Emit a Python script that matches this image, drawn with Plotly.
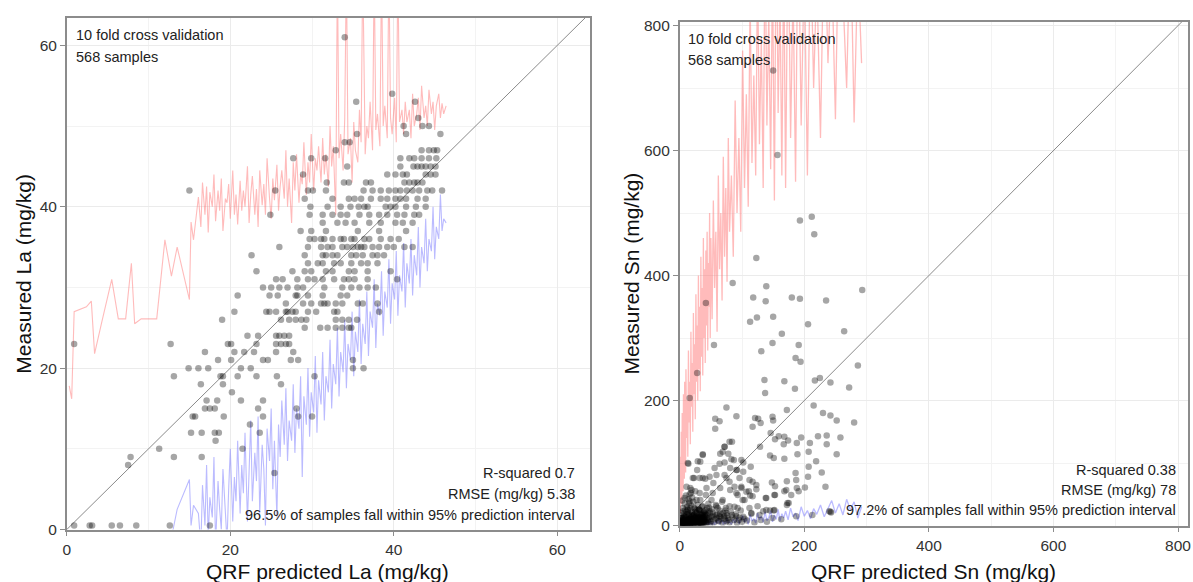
import plotly.graph_objects as go

# ---------------- La panel data ----------------
la_levels = [61, 54, 53, 51, 50, 49, 48, 47, 46, 45, 44, 43, 42, 41, 40, 39, 38, 37, 36, 35, 34, 33,
             32, 31, 30, 29, 28, 27, 26, 25, 24, 23, 22, 21, 20, 19, 18, 17, 16, 15, 14, 13, 12,
             11, 10, 9, 8, 7, 0.5]
la_preds = [
    [34.0], [39.8], [35.4, 42.6], [43.0], [41.2, 43.5, 44.3], [35.5, 41.5, 45.7], [34.0, 34.6],
    [32.9, 43.4, 44.3, 44.9, 45.3],
    [27.7, 29.9, 31.6, 40.8, 41.9, 42.5, 43.4, 44.3, 45.2],
    [34.3, 40.8, 42.4, 42.9, 43.4, 43.9, 44.5, 45.1],
    [28.9, 39.2, 40.2, 41.1, 41.6, 43.9, 44.5, 45.1],
    [31.8, 33.9, 34.5, 36.6, 37.2, 41.3, 41.9, 42.5, 42.9, 43.5],
    [15.0, 25.5, 29.5, 30.1, 31.7, 36.3, 37.4, 38.4, 39.4, 40.2, 40.8, 41.6, 42.3, 43.1, 44.1, 44.7, 45.9],
    [29.1, 32.5, 34.5, 35.2, 36.0, 37.2, 38.4, 39.2, 40.2, 40.8, 41.5, 42.9, 43.9],
    [29.8, 31.9, 33.5, 34.7, 35.7, 36.4, 36.8, 39.0, 39.6, 40.2, 41.5, 42.7, 43.9],
    [24.9, 29.7, 31.3, 32.5, 33.5, 34.3, 35.8, 37.0, 38.2, 39.2, 40.4, 41.3, 42.5, 43.1],
    [31.3, 33.1, 34.1, 35.2, 37.0, 38.4, 40.2, 41.1, 42.3],
    [28.6, 29.9, 31.7, 35.6, 38.2, 41.5],
    [29.7, 30.3, 31.1, 31.5, 32.5, 33.5, 33.9, 34.8, 35.2, 36.4, 37.0, 38.4, 39.6, 40.6],
    [26.0, 29.5, 31.1, 31.9, 32.5, 33.7, 34.3, 35.0, 35.6, 36.0, 36.4, 37.4, 38.2, 39.2, 40.0, 41.3, 42.3],
    [22.6, 29.1, 31.3, 31.7, 32.5, 33.1, 34.8, 35.4, 36.2, 37.4, 38.0, 38.8],
    [29.5, 30.7, 31.3, 32.7, 33.5, 34.8, 36.0, 36.8, 38.0],
    [23.2, 27.6, 29.1, 29.9, 31.7, 32.5, 34.5, 35.2, 36.8, 39.6],
    [25.6, 26.4, 28.2, 29.5, 30.3, 31.3, 32.7, 33.9, 34.5, 35.2, 36.8, 40.4],
    [24.0, 25.0, 26.0, 27.0, 28.2, 28.9, 31.5, 33.7, 34.8, 35.8, 36.8, 37.8],
    [20.9, 24.8, 25.8, 28.0, 28.2, 29.5, 31.3, 33.5, 34.3],
    [26.8, 28.9, 29.9, 31.1, 31.5, 31.9, 32.9, 33.7, 35.6, 36.2, 38.0],
    [20.5, 24.4, 24.8, 25.6, 26.8, 27.0, 27.6, 28.0, 29.5, 30.5, 32.7, 33.1, 38.2],
    [19.0, 26.2, 27.2, 28.0, 28.7, 29.3, 32.9, 33.7, 34.5, 35.5],
    [29.1, 31.0, 31.9, 32.9, 33.7, 34.5, 34.8],
    [22.1, 23.4, 25.6, 26.0, 26.6, 27.2],
    [0.9, 12.7, 19.7, 20.1, 23.2, 25.6, 26.2, 26.8, 27.2],
    [16.9, 20.5, 21.7, 22.9, 25.6, 27.7],
    [18.5, 20.1, 24.0, 24.6, 27.4, 28.3, 35.0],
    [14.9, 16.1, 17.3, 21.3, 22.5, 35.0, 36.3],
    [13.1, 18.8, 19.1, 20.9, 23.2, 25.7, 30.3],
    [16.4, 19.1, 26.2],
    [20.2],
    [17.1, 18.4, 21.3, 24.0],
    [16.9, 17.5, 18.1, 23.4, 28.1],
    [15.4, 15.7, 19.2, 24.0, 28.3, 30.0],
    [22.4],
    [15.2, 16.5, 18.1, 18.6, 23.6],
    [18.2],
    [11.3, 21.5],
    [7.8, 13.1, 16.5],
    [7.5],
    [25.4],
    [0.9, 2.8, 3.1, 5.5, 6.5, 8.5, 12.6, 17.5],
]

la_pi_x = [0.3, 0.6, 0.9, 2.4, 3.0, 3.4, 4.3, 5.5, 6.3, 7.2, 7.9, 8.3, 9.1, 11.0, 12.0, 12.8, 13.5, 15.0, 15.2, 15.5,
           16.1, 16.4, 16.6, 16.9, 17.1, 17.3, 17.5, 17.8, 18.0, 18.2, 18.5, 18.7, 18.9, 19.1, 19.4, 19.6, 19.8, 20.0, 20.3, 20.5, 20.7, 20.9, 21.2,
           21.4, 21.6, 21.8, 22.1, 22.3, 22.5, 22.7, 23.0, 23.2, 23.4, 23.6, 23.9, 24.1, 24.3, 24.5, 24.8, 25.0, 25.2, 25.4, 25.7, 25.9,
           26.1, 26.3, 26.6, 26.8, 27.0, 27.2, 27.5, 27.7, 27.9, 28.1, 28.4, 28.6, 28.8, 29.0, 29.3, 29.5, 29.7, 29.9, 30.2, 30.4, 30.6, 30.8,
           31.1, 31.3, 31.5, 31.7, 32.0, 32.2, 32.4, 32.6, 32.9, 33.1, 33.3, 33.5, 33.8, 34.0, 34.2, 34.4, 34.7, 34.9, 35.1, 35.3, 35.6, 35.8,
           36.0, 36.2, 36.5, 36.7, 36.9, 37.1, 37.4, 37.6, 37.8, 38.0, 38.3, 38.5, 38.7, 38.9, 39.2, 39.4, 39.6, 39.8, 40.1, 40.3, 40.5, 40.7,
           41.0, 41.2, 41.4, 41.6, 41.9, 42.1, 42.3, 42.5, 42.8, 43.0, 43.2, 43.4, 43.7, 43.9, 44.1, 44.3, 44.6, 44.8, 45.0, 45.2, 45.5, 45.7, 45.9, 46.1, 46.4]
la_upper = [17.8, 16.2, 27.0, 27.6, 28.3, 21.8, 25.8, 31.0, 26.1, 26.1, 33.0, 25.5, 26.1, 26.1, 35.9, 31.4, 35.0, 28.5, 38.1, 35.9,
            41.2, 37.5, 43.0, 39.0, 42.5, 36.8, 41.8, 40.0, 44.0, 38.2, 42.0, 39.5, 43.5, 37.0, 41.0, 40.5, 42.8, 38.5, 44.5, 39.0, 41.5, 37.8, 43.2,
            39.5, 42.0, 40.0, 45.0, 38.0, 41.5, 43.8, 39.0, 42.2, 37.5, 44.5, 40.2, 42.8, 39.0, 46.0, 41.0, 38.5, 43.5, 40.8, 45.2, 39.5, 42.5,
            44.5, 41.0, 47.0, 40.0, 43.5, 38.0, 45.5, 42.0, 46.5, 40.5, 44.0, 42.8, 48.0, 41.5, 45.5, 43.0, 49.0, 42.0, 46.0, 44.5, 47.5, 43.0,
            48.5, 44.0, 46.5, 42.5, 50.0, 45.0, 47.5, 39.0, 70.0, 46.0, 49.0, 44.5, 51.0, 70.0, 46.5, 48.5, 43.0, 50.5, 47.0, 45.5, 52.0, 48.0,
            70.0, 46.5, 50.0, 48.5, 53.0, 47.0, 70.0, 49.5, 51.5, 47.5, 70.0, 50.0, 52.5, 48.5, 70.0, 51.0, 49.0, 53.5, 48.0, 70.0, 50.5, 52.0,
            49.0, 53.0, 50.5, 52.0, 48.5, 54.0, 50.0, 51.5, 53.5, 49.5, 55.0, 51.0, 52.5, 50.0, 54.5, 51.5, 53.0, 49.5, 52.5, 54.0, 51.0, 52.8, 51.5, 52.5]
la_lower = [-3, -3, -3, -3, -3, -3, -3, -3, -3, -3, -3, -3, -3, -3, -3, -1.0, 2.5, 6.2, 0.5, 3.0,
            2.0, -2.0, 5.5, 0.5, 8.0, -1.0, 4.0, 1.5, 9.0, -2.0, 6.0, 2.5, 0.0, 7.5, 3.0, -1.5, 5.0, 10.0, 1.0, 6.5, 3.5, 11.0, 2.0,
            8.0, 4.5, 12.0, 1.0, 7.0, 13.5, 3.5, 9.5, 6.0, 14.0, 2.0, 10.5, 7.5, 0.5, 12.5, 8.5, 15.0, 5.0, 11.0, 1.5, 13.0, 9.0,
            16.0, 10.5, 17.5, 8.5, 13.5, 11.0, 18.0, 9.5, 15.0, 12.5, 19.0, 6.5, 16.5, 13.0, 20.0, 11.5, 17.0, 14.5, 21.5, 12.0, 18.5, 15.5,
            22.0, 13.5, 19.0, 17.0, 23.5, 15.0, 20.5, 18.0, 25.0, 16.5, 22.0, 19.5, 26.0, 17.5, 23.0, 21.0, 27.0, 19.0, 24.5, 22.0, 28.5, 20.5,
            25.5, 23.0, 29.5, 21.5, 27.0, 25.0, 31.0, 22.5, 28.0, 26.5, 32.0, 24.0, 29.5, 27.5, 33.5, 25.5, 30.5, 28.5, 34.5, 26.5, 31.5, 29.5,
            35.5, 27.5, 33.0, 30.5, 36.0, 29.0, 34.0, 31.5, 37.5, 30.0, 35.0, 33.0, 38.5, 32.0, 36.0, 34.5, 40.0, 33.5, 37.5, 36.0, 41.5, 37.0, 38.5, 38.0]

# ---------------- Sn panel data ----------------
sn_pred = [150, 157, 193, 212, 216, 123, 85, 139, 293, 118, 138, 180, 193, 235, 42, 113, 124, 150, 206, 164,
           264, 55, 131, 149, 191, 186, 194, 28, 286, 136, 168, 217, 225, 242, 137, 185, 272, 16, 215, 75,
           91, 172, 230, 242, 252, 280, 57, 64, 57, 121, 126, 130, 117, 149, 150, 146, 159, 168, 174, 153,
           167, 188, 195, 222, 236, 258, 129, 145, 151, 168, 189, 207, 209, 236, 252, 219, 207, 186, 206, 228,
           148, 153, 172, 201, 234, 188, 191, 153, 168, 138, 175, 172, 134, 145, 151, 242,
           14, 33, 28, 23, 41, 37, 84, 78, 72, 65, 72, 87, 102, 114, 81, 91, 72, 102, 117, 111, 99, 123, 104,
           113, 93, 81, 65, 54, 42, 51, 33, 18, 17,
           80, 72, 69, 37, 83, 92, 99, 64, 29, 13, 21, 32, 37, 48, 56, 59, 75, 80, 88, 96, 99, 112, 123, 107,
           117, 125, 139, 152, 152, 139, 173, 171, 187, 179, 187, 240, 128, 112, 101, 91, 93, 80, 69, 53, 43,
           32, 19, 11, 27, 16, 8, 59, 48, 37, 27, 19, 5, 3, 64, 75, 91, 104, 115, 149, 163, 213, 243,
           1, 2, 3, 4, 5, 6, 7, 8, 9, 10, 11, 12, 13, 14, 15, 16, 17, 18, 19, 20, 21, 22, 23, 24, 25, 26, 27,
           28, 29, 30, 31, 32, 33, 34, 35, 36, 37, 38, 39, 40, 42, 43, 44, 45, 46, 47, 48, 50, 52, 54, 56, 58,
           60, 62, 64, 66, 68, 70, 72, 74, 76, 78, 82, 85, 88, 90, 95, 98, 102, 108, 115, 120, 130, 140,
           2, 3, 4, 5, 6, 7, 8, 9, 10, 11, 12, 13, 14, 15, 16, 17, 18, 19, 20, 21, 22, 23, 24, 25, 26, 27, 28,
           29, 30, 31, 32, 33, 34, 35, 36, 37, 38, 39, 40, 41, 42, 43, 44, 45, 46, 47, 48, 49, 51, 53, 55, 57,
           59, 61, 63, 65, 67, 69, 71, 73, 75, 77, 80, 84, 87, 92, 96, 100,
           3, 5, 8, 10, 4, 6, 12, 9, 14, 7, 11, 2, 15, 13, 18, 20, 16, 22, 25, 17,
           1, 2, 3, 4, 5, 6, 7, 8, 9, 10, 11, 12, 13, 14, 15, 16, 17, 18, 19, 20, 21, 22, 23, 24, 25, 26, 27,
           28, 29, 30, 31, 32, 33, 34, 35, 36, 37, 38, 39, 40,
           2, 4, 6, 8, 10, 12, 14, 16, 18, 20, 22, 24, 26, 28, 30, 32, 34, 36, 38, 40,
           3, 7, 11, 15, 19, 23, 27, 31, 35, 39, 5, 9, 13, 17, 21, 25, 29, 33, 37, 41]
sn_meas = [728, 593, 488, 494, 466, 428, 388, 383, 377, 365, 359, 365, 363, 360, 356, 326, 333, 334, 322, 307,
           311, 289, 279, 292, 289, 268, 262, 244, 256, 233, 231, 232, 236, 229, 212, 219, 221, 204, 192, 189,
           175, 185, 180, 176, 168, 165, 171, 167, 155, 172, 171, 164, 158, 174, 168, 148, 143, 142, 136, 138,
           130, 132, 141, 143, 144, 141, 126, 112, 108, 107, 114, 118, 132, 130, 114, 103, 94, 84, 78, 85,
           69, 63, 71, 61, 62, 60, 55, 49, 55, 44, 36, 33, 23, 24, 24, 22,
           99, 102, 89, 76, 75, 114, 134, 115, 126, 115, 101, 105, 101, 94, 92, 89, 81, 86, 70, 55, 60, 58, 41,
           48, 49, 57, 60, 68, 49, 41, 41, 52, 60,
           134, 126, 118, 113, 106, 89, 105, 99, 103, 100, 76, 76, 76, 78, 92, 81, 76, 70, 62, 76, 62, 73, 65, 54,
           47, 31, 44, 49, 25, 25, 36, 57, 73, 49, 15, 23, 17, 28, 41, 52, 28, 31, 41, 52, 60,
           52, 57, 62, 41, 39, 44, 31, 23, 17, 25, 17, 23, 12, 15, 20, 15, 11, 20, 12, 10, 17, 21,
           2, 5, 1, 8, 3, 12, 4, 6, 2, 15, 7, 3, 10, 18, 5, 9, 2, 13, 22, 6, 11, 4, 16, 27, 8, 14, 3,
           20, 10, 6, 25, 13, 4, 18, 9, 30, 14, 7, 22, 11, 5, 17, 28, 9, 35, 13, 20, 7, 26, 15, 10, 33,
           18, 8, 24, 14, 38, 20, 11, 28, 16, 9, 22, 13, 30, 18, 9, 24, 14, 8, 19, 5, 9, 6,
           1, 3, 2, 6, 1, 9, 3, 5, 1, 4, 8, 2, 6, 11, 3, 7, 1, 4, 9, 2, 14, 6, 3, 12, 5, 19, 8,
           2, 15, 4, 9, 24, 6, 12, 3, 20, 10, 5, 16, 8, 25, 4, 12, 19, 6, 29, 10, 3, 14, 21, 5, 17,
           12, 28, 7, 19, 11, 4, 15, 24, 7, 12, 5, 17, 9, 4, 13, 6,
           20, 28, 35, 48, 40, 18, 30, 25, 42, 15, 22, 12, 36, 26, 32, 45, 50, 38, 55, 28,
           4, 1, 7, 2, 10, 5, 1, 8, 3, 13, 6, 2, 9, 4, 16, 1, 11, 7, 3, 19, 6, 12, 2, 9, 22, 4, 15,
           8, 1, 11, 26, 5, 13, 3, 17, 9, 31, 2, 12, 7,
           3, 9, 1, 14, 6, 2, 20, 8, 4, 11, 1, 17, 6, 3, 13, 24, 2, 10, 5, 15,
           7, 2, 18, 10, 1, 28, 6, 14, 3, 21, 12, 5, 25, 1, 16, 8, 33, 4, 11, 19]

sn_pi_x = [0.5, 1, 1.5, 2, 2.5, 3, 3.5, 4, 4.5, 5, 5.5, 6, 6.5, 7, 7.5, 8, 8.5, 9, 9.5, 10,
           11, 12, 13, 14, 15, 16, 17, 18, 19, 20, 21, 22, 23, 24, 25, 26, 27, 28, 29, 30,
           31, 32, 33, 34, 35, 36, 37, 38, 39, 40, 41, 42, 43, 44, 45, 46, 47, 48, 49, 50,
           52, 54, 56, 58, 60, 62, 64, 66, 68, 70, 72, 74, 76, 78, 80,
           83, 86, 89, 92, 95, 98, 101, 104, 107, 110, 113, 116, 119, 122, 125, 128, 131, 134, 137, 140,
           143, 146, 149, 152, 155, 158, 161, 164, 167, 170,
           174, 178, 182, 186, 190, 195, 200, 205, 210, 215, 220,
           226, 232, 238, 244, 250, 256, 262, 268, 274, 280, 286, 292]
sn_upper = [60, 20, 110, 45, 150, 70, 35, 180, 90, 140, 55, 210, 100, 160, 75, 230, 120, 190, 85, 250,
            140, 200, 110, 280, 165, 230, 130, 310, 190, 260, 150, 340, 210, 290, 170, 370, 230, 320, 200, 400,
            250, 350, 215, 430, 270, 380, 240, 460, 300, 410, 260, 440, 320, 470, 280, 420, 350, 500, 300, 460,
            330, 520, 380, 470, 310, 560, 410, 500, 360, 590, 430, 540, 390, 620, 470,
            560, 430, 680, 500, 620, 470, 760, 540, 690, 510, 850, 580, 720, 560, 900, 610, 780, 540, 950, 640,
            820, 570, 900, 520, 1000, 660, 850, 560, 920, 540,
            980, 620, 860, 550, 1000, 640, 900, 560, 950, 700, 880,
            620, 980, 740, 900, 650, 1000, 840, 700, 960, 645, 900, 740]
sn_lower = [0.5, 1, 0.3, 2, 0.5, 1.5, 0.2, 3, 1, 0.5, 2, 0.8, 3.5, 1, 0.4, 2.5, 1.2, 4, 0.6, 2,
            1, 3, 0.5, 4, 1.5, 2.5, 0.8, 5, 2, 1, 3.5, 0.5, 6, 1.5, 3, 1, 4.5, 2, 7, 1,
            3, 5.5, 1.5, 4, 0.8, 8, 2.5, 4.5, 1, 6, 3, 9, 1.5, 5, 2, 7.5, 3.5, 1, 10, 4,
            2, 6, 1, 8, 3, 11, 2, 5, 9, 1.5, 7, 3, 12, 4, 6,
            2, 10, 4, 14, 3, 8, 16, 5, 12, 2, 18, 7, 11, 4, 20, 9, 15, 5, 22, 8,
            13, 24, 6, 17, 10, 26, 7, 19, 12, 23,
            9, 28, 14, 20, 8, 30, 15, 24, 11, 27, 18,
            33, 14, 28, 40, 20, 35, 17, 42, 25, 38, 12, 30]

# ---------------- text ----------------
cv_text = ["10 fold cross validation", "568 samples"]
la_stats = ["R-squared 0.7", "RMSE (mg/kg) 5.38", "96.5% of samples fall within 95% prediction interval"]
sn_stats = ["R-squared 0.38", "RMSE (mg/kg) 78", "97.2% of samples fall within 95% prediction interval"]

# ---------------- build ----------------
la_x, la_y = [], []
for lev, preds in zip(la_levels, la_preds):
    for p in preds:
        la_x.append(p)
        la_y.append(lev)

W, H = 1193, 582


def fx(px):
    # screen pixel -> paper fraction (compensates the capture offset)
    return (px - 2) / 0.9975 / W


def fy(py):
    return 1 - (py - 1) / 0.986 / H


FONT = "Liberation Sans, Arial, Helvetica, sans-serif"
RED = "rgba(255,120,120,0.5)"
BLUE = "rgba(120,120,255,0.5)"
PT = "rgba(0,0,0,0.35)"

fig = go.Figure()


def add_panel(xa, ya, px, upper, lower, xs, ys, lim, lw):
    n = min(len(px), len(upper), len(lower))
    fig.add_trace(go.Scatter(x=px[:n], y=upper[:n], mode="lines", line=dict(color=RED, width=lw),
                             xaxis=xa, yaxis=ya, hoverinfo="skip"))
    fig.add_trace(go.Scatter(x=px[:n], y=lower[:n], mode="lines", line=dict(color=BLUE, width=lw),
                             xaxis=xa, yaxis=ya, hoverinfo="skip"))
    fig.add_trace(go.Scatter(x=[0, lim], y=[0, lim], mode="lines", line=dict(color="#8a8a8a", width=1),
                             xaxis=xa, yaxis=ya, hoverinfo="skip"))
    fig.add_trace(go.Scatter(x=xs, y=ys, mode="markers", marker=dict(color=PT, size=6.5, line=dict(width=0)),
                             xaxis=xa, yaxis=ya, cliponaxis=True, hoverinfo="skip"))


add_panel("x", "y", la_pi_x, la_upper, la_lower, la_x, la_y, 1000, 1.1)
add_panel("x2", "y2", sn_pi_x, sn_upper, sn_lower, sn_pred, sn_meas, 10000, 1.3)

axis_common = dict(showline=True, mirror=True, linecolor="#8c8c8c", linewidth=1.5,
                   ticks="outside", ticklen=5, tickcolor="#8c8c8c", tickwidth=1,
                   gridcolor="#ebebeb", gridwidth=1, zeroline=False, ticklabeloverflow="allow",
                   tickfont=dict(family=FONT, size=15.5, color="#333333"))

fig.update_layout(
    width=W, height=H, margin=dict(l=0, r=0, t=0, b=0),
    paper_bgcolor="white", plot_bgcolor="white", showlegend=False,
    font=dict(family=FONT, color="#222222"),
    xaxis=dict(domain=[fx(65), fx(590)], range=[0, 64], tickvals=[0, 20, 40, 60], anchor="y",
               minor=dict(tickvals=[10, 30, 50], showgrid=True, gridcolor="#f3f3f3", ticks=""), **axis_common),
    yaxis=dict(domain=[fy(530), fy(14)], range=[0, 63.4], tickvals=[0, 20, 40, 60], anchor="x",
               minor=dict(tickvals=[10, 30, 50], showgrid=True, gridcolor="#f3f3f3", ticks=""), **axis_common),
    xaxis2=dict(domain=[fx(680), fx(1190)], range=[0, 816], tickvals=[0, 200, 400, 600, 800], anchor="y2",
                minor=dict(tickvals=[100, 300, 500, 700], showgrid=True, gridcolor="#f3f3f3", ticks=""), **axis_common),
    yaxis2=dict(domain=[fy(526), fy(18)], range=[0, 806], tickvals=[0, 200, 400, 600, 800], anchor="x2",
                minor=dict(tickvals=[100, 300, 500, 700], showgrid=True, gridcolor="#f3f3f3", ticks=""), **axis_common),
)

ann = []
tf = dict(family=FONT, size=14.5, color="#222222")
for i, t in enumerate(cv_text):
    ann.append(dict(xref="paper", yref="paper", x=fx(72), y=fy(31 + 22 * i), text=t,
                    showarrow=False, xanchor="left", yanchor="middle", font=tf))
    ann.append(dict(xref="paper", yref="paper", x=fx(686), y=fy(35 + 21 * i), text=t,
                    showarrow=False, xanchor="left", yanchor="middle", font=tf))
for i, t in enumerate(la_stats):
    ann.append(dict(xref="paper", yref="paper", x=fx(577), y=fy(473 + 21 * i), text=t,
                    showarrow=False, xanchor="right", yanchor="middle", font=tf))
for i, t in enumerate(sn_stats):
    ann.append(dict(xref="paper", yref="paper", x=fx(1180), y=fy(470 + 20 * i), text=t,
                    showarrow=False, xanchor="right", yanchor="middle", font=tf))
tt = dict(family=FONT, size=21, color="#111111")
ann.append(dict(xref="paper", yref="paper", x=fx(327), y=fy(572), text="QRF predicted La (mg/kg)",
                showarrow=False, xanchor="center", yanchor="middle", font=tt))
ann.append(dict(xref="paper", yref="paper", x=fx(935), y=fy(572), text="QRF predicted Sn (mg/kg)",
                showarrow=False, xanchor="center", yanchor="middle", font=tt))
ann.append(dict(xref="paper", yref="paper", x=fx(22), y=fy(272), text="Measured La (mg/kg)",
                showarrow=False, xanchor="center", yanchor="middle", textangle=-90, font=tt))
ann.append(dict(xref="paper", yref="paper", x=fx(632), y=fy(272), text="Measured Sn (mg/kg)",
                showarrow=False, xanchor="center", yanchor="middle", textangle=-90, font=tt))
fig.update_layout(annotations=ann)

js = ("document.documentElement.style.margin='0';document.body.style.margin='0';"
      "document.body.style.padding='0';document.documentElement.style.overflow='hidden';"
      "document.body.style.overflow='hidden';")
fig.write_html("out.html", post_script=js, config={"displayModeBar": False})
